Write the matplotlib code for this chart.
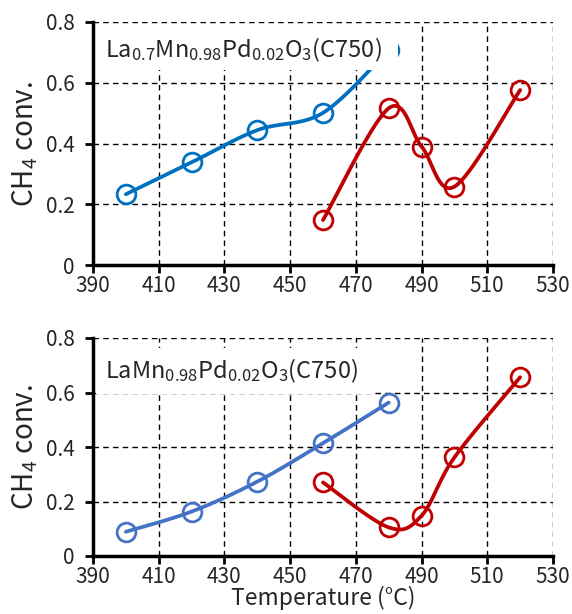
import numpy as np
import matplotlib
matplotlib.use("Agg")
import matplotlib.pyplot as plt
from matplotlib.patches import Rectangle
from matplotlib.ticker import FuncFormatter, FixedLocator

plt.rcParams['font.family'] = ['Noto Sans CJK SC', 'DejaVu Sans']
plt.rcParams['mathtext.fontset'] = 'custom'
plt.rcParams['mathtext.rm'] = 'Noto Sans CJK SC'
plt.rcParams['mathtext.it'] = 'Noto Sans CJK SC'
plt.rcParams['mathtext.bf'] = 'Noto Sans CJK SC'
plt.rcParams['mathtext.default'] = 'regular'

# ---- data ----
top_blue_x = [400, 420, 440, 460, 480]
top_blue_y = [0.233, 0.338, 0.444, 0.501, 0.708]
top_red_x = [460, 480, 490, 500, 520]
top_red_y = [0.148, 0.516, 0.390, 0.258, 0.576]

bot_blue_x = [400, 420, 440, 460, 480]
bot_blue_y = [0.089, 0.163, 0.273, 0.414, 0.563]
bot_red_x = [460, 480, 490, 500, 520]
bot_red_y = [0.270, 0.105, 0.148, 0.362, 0.656]

x_ticks = [390, 410, 430, 450, 470, 490, 510, 530]
y_ticks = [0, 0.2, 0.4, 0.6, 0.8]

top_label = "La$_{0.7}$Mn$_{0.98}$Pd$_{0.02}$O$_{3}$(C750)"
bot_label = "LaMn$_{0.98}$Pd$_{0.02}$O$_{3}$(C750)"
ylabel = "CH$_{4}$ conv."
xlabel = "Temperature (°C)"

BLUE1 = '#0070C0'
BLUE2 = '#4472C4'
RED = '#C00000'
TXT = '#262626'


def smooth(x, y, n=40):
    """Excel-like smoothed line (Catmull-Rom Bezier) through the data points."""
    P = np.column_stack([x, y]).astype(float)
    m = len(P)
    out = []
    for i in range(m - 1):
        p0 = P[i - 1] if i > 0 else P[i]
        p1 = P[i]
        p2 = P[i + 1]
        p3 = P[i + 2] if i + 2 < m else P[i + 1]
        c1 = p1 + (p2 - p0) / 6.0
        c2 = p2 - (p3 - p1) / 6.0
        t = np.linspace(0, 1, n)[:, None]
        seg = ((1 - t) ** 3) * p1 + 3 * ((1 - t) ** 2) * t * c1 + 3 * (1 - t) * t ** 2 * c2 + t ** 3 * p2
        out.append(seg if i == 0 else seg[1:])
    s = np.vstack(out)
    return s[:, 0], s[:, 1]


fig = plt.figure(figsize=(5.72, 6.14), dpi=100)
W, H = 572.0, 614.0
ax1 = fig.add_axes([93 / W, 1 - 265 / H, 460 / W, 243 / H])
ax2 = fig.add_axes([93 / W, 1 - 556 / H, 460 / W, 218 / H])


def style(ax):
    ax.set_xlim(390, 530)
    ax.set_ylim(0, 0.8)
    ax.xaxis.set_major_locator(FixedLocator(x_ticks))
    ax.yaxis.set_major_locator(FixedLocator(y_ticks))
    ax.yaxis.set_major_formatter(FuncFormatter(lambda v, p: '0' if abs(v) < 1e-9 else f'{v:.1f}'))
    ax.grid(True, color='black', linestyle=(0, (4, 3)), linewidth=1.0)
    ax.set_axisbelow(True)
    for s in ['top', 'right']:
        ax.spines[s].set_visible(False)
    for s in ['left', 'bottom']:
        ax.spines[s].set_linewidth(2.5)
        ax.spines[s].set_zorder(10)
    ax.tick_params(direction='out', length=6, width=2, labelsize=15, pad=1,
                   labelcolor=TXT)
    ax.tick_params(axis='y', pad=7)


def series(ax, x, y, color):
    sx, sy = smooth(x, y)
    ax.plot(sx, sy, color=color, linewidth=2.7, zorder=3, solid_capstyle='round')
    ax.plot(x, y, linestyle='none', marker='o', markersize=13.5, markerfacecolor='none',
            markeredgecolor=color, markeredgewidth=2.0, zorder=4)


style(ax1)
style(ax2)
series(ax1, top_blue_x, top_blue_y, BLUE1)
series(ax1, top_red_x, top_red_y, RED)
series(ax2, bot_blue_x, bot_blue_y, BLUE2)
series(ax2, bot_red_x, bot_red_y, RED)

ax1.add_patch(Rectangle((0.006, 0.802), 0.657, 0.186, transform=ax1.transAxes,
                        facecolor='white', edgecolor='none', zorder=5))
ax1.text(0.026, 0.885, top_label, transform=ax1.transAxes, fontsize=17,
         va='center', ha='left', color=TXT, zorder=6)
ax2.add_patch(Rectangle((0.006, 0.743), 0.607, 0.211, transform=ax2.transAxes,
                        facecolor='white', edgecolor='none', zorder=5))
ax2.text(0.026, 0.849, bot_label, transform=ax2.transAxes, fontsize=17,
         va='center', ha='left', color=TXT, zorder=6)

ax1.set_ylabel(ylabel, fontsize=20, labelpad=4, color=TXT)
ax2.set_ylabel(ylabel, fontsize=20, labelpad=4, color=TXT)
ax2.set_xlabel(xlabel, fontsize=16.5, labelpad=-1, color=TXT)

fig.savefig('out.png', dpi=100)
